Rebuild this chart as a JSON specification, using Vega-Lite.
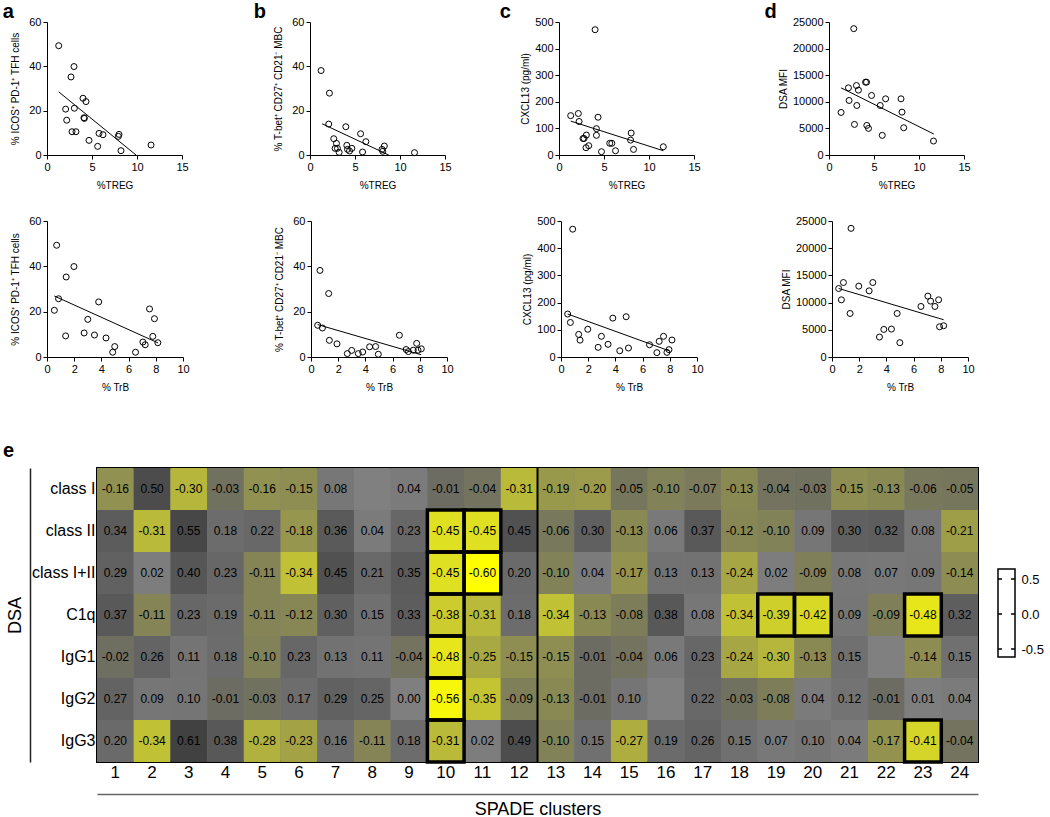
{
"$schema": "https://vega.github.io/schema/vega-lite/v6.json",
"background": "white",
"padding": {"left": 0, "top": 2, "right": 0, "bottom": 0},
"datasets": {
"aT": [{"x":1.30,"y":49.3},{"x":3.0,"y":39.9},{"x":2.67,"y":35.2},{"x":4.0,"y":25.6},{"x":4.33,"y":24.1},{"x":2.07,"y":20.7},{"x":3.04,"y":21.1},{"x":2.19,"y":15.7},{"x":4.11,"y":16.8},{"x":4.15,"y":16.5},{"x":2.78,"y":10.5},{"x":3.22,"y":10.5},{"x":5.78,"y":9.75},{"x":6.22,"y":9.15},{"x":8.0,"y":9.3},{"x":7.93,"y":8.4},{"x":4.67,"y":6.6},{"x":5.63,"y":3.9},{"x":8.22,"y":1.95},{"x":11.56,"y":4.5}],
"aTf": [{"x":1.3,"y":28.5},{"x":9.89,"y":0}],
"bT": [{"x":1.23,"y":38.1},{"x":2.16,"y":27.9},{"x":2.08,"y":13.95},{"x":3.98,"y":12.75},{"x":5.62,"y":9.6},{"x":2.64,"y":7.35},{"x":2.94,"y":5.25},{"x":6.21,"y":6.0},{"x":4.09,"y":4.35},{"x":8.26,"y":4.05},{"x":2.79,"y":3.0},{"x":3.05,"y":3.0},{"x":4.65,"y":3.0},{"x":4.17,"y":2.55},{"x":4.39,"y":1.8},{"x":8.0,"y":2.55},{"x":8.08,"y":1.65},{"x":3.24,"y":1.2},{"x":5.84,"y":1.35},{"x":11.61,"y":1.05}],
"bTf": [{"x":1.34,"y":14.1},{"x":8.75,"y":0}],
"cT": [{"x":4.01,"y":471},{"x":1.3,"y":148},{"x":2.15,"y":156},{"x":2.23,"y":126},{"x":4.34,"y":142},{"x":4.16,"y":99},{"x":4.16,"y":74},{"x":3.04,"y":75},{"x":2.78,"y":62},{"x":2.67,"y":62},{"x":3.3,"y":35},{"x":3.0,"y":27.5},{"x":5.64,"y":44},{"x":5.87,"y":44},{"x":4.72,"y":12.5},{"x":6.28,"y":16},{"x":8.02,"y":82.5},{"x":7.95,"y":56},{"x":8.28,"y":21},{"x":11.59,"y":31}],
"cTf": [{"x":1.3,"y":127.5},{"x":11.6,"y":16}],
"dT": [{"x":2.75,"y":23750},{"x":1.34,"y":8000},{"x":2.16,"y":12625},{"x":2.23,"y":10250},{"x":3.05,"y":13060},{"x":3.27,"y":12190},{"x":3.09,"y":9310},{"x":2.83,"y":5750},{"x":4.06,"y":13690},{"x":4.17,"y":13690},{"x":4.73,"y":11190},{"x":6.29,"y":10560},{"x":5.69,"y":9310},{"x":5.92,"y":3690},{"x":4.2,"y":5560},{"x":4.39,"y":5000},{"x":8.0,"y":10560},{"x":8.11,"y":8060},{"x":8.3,"y":5125},{"x":11.61,"y":2625}],
"dTf": [{"x":1.34,"y":12625},{"x":11.65,"y":3940}],
"aB": [{"x":0.71,"y":49.3},{"x":1.98,"y":39.9},{"x":1.41,"y":35.3},{"x":0.85,"y":25.7},{"x":0.54,"y":20.6},{"x":3.8,"y":24.3},{"x":3.0,"y":16.6},{"x":7.54,"y":21.2},{"x":7.9,"y":16.9},{"x":1.37,"y":9.3},{"x":2.73,"y":10.6},{"x":3.49,"y":9.7},{"x":4.34,"y":8.4},{"x":7.78,"y":9.1},{"x":4.98,"y":4.6},{"x":4.83,"y":2.1},{"x":6.51,"y":2.1},{"x":7.05,"y":6.6},{"x":7.22,"y":5.4},{"x":8.15,"y":6.3}],
"aBf": [{"x":0.54,"y":26.9},{"x":8.17,"y":6.2}],
"bB": [{"x":0.66,"y":38.2},{"x":1.3,"y":28.0},{"x":0.49,"y":14.0},{"x":0.84,"y":12.8},{"x":1.35,"y":7.35},{"x":1.91,"y":5.8},{"x":2.67,"y":1.5},{"x":2.99,"y":2.9},{"x":3.48,"y":1.5},{"x":3.8,"y":2.2},{"x":4.31,"y":4.5},{"x":4.75,"y":4.6},{"x":4.95,"y":1.2},{"x":6.5,"y":9.6},{"x":7.0,"y":3.3},{"x":7.16,"y":2.4},{"x":7.52,"y":3.0},{"x":7.77,"y":6.0},{"x":7.87,"y":3.0},{"x":8.11,"y":3.6}],
"bBf": [{"x":0.49,"y":14.3},{"x":8.1,"y":1.0}],
"cB": [{"x":0.86,"y":470},{"x":0.49,"y":158},{"x":0.69,"y":127},{"x":1.3,"y":83},{"x":1.4,"y":62},{"x":1.97,"y":102},{"x":2.97,"y":76},{"x":2.73,"y":35.5},{"x":3.46,"y":46.6},{"x":3.81,"y":143},{"x":4.32,"y":23},{"x":4.79,"y":148},{"x":4.96,"y":33},{"x":6.51,"y":45},{"x":7.54,"y":76},{"x":7.22,"y":57.6},{"x":7.05,"y":16},{"x":7.79,"y":17},{"x":7.94,"y":27},{"x":8.16,"y":62.5}],
"cBf": [{"x":0.49,"y":158},{"x":7.94,"y":23}],
"dB": [{"x":1.4,"y":23650},{"x":0.49,"y":12590},{"x":0.84,"y":13690},{"x":0.69,"y":10510},{"x":1.33,"y":8000},{"x":1.97,"y":13020},{"x":2.73,"y":12160},{"x":3.0,"y":13690},{"x":3.49,"y":3670},{"x":3.81,"y":5070},{"x":4.37,"y":5130},{"x":4.79,"y":8000},{"x":4.99,"y":2630},{"x":6.54,"y":9290},{"x":7.05,"y":11190},{"x":7.25,"y":10270},{"x":7.57,"y":9290},{"x":7.84,"y":10510},{"x":7.91,"y":5560},{"x":8.21,"y":5750}],
"dBf": [{"x":0.49,"y":12600},{"x":8.21,"y":6850}],
"heat": [
{"r":"class I","1":-0.16,"2":0.50,"3":-0.30,"4":-0.03,"5":-0.16,"6":-0.15,"7":0.08,"8":null,"9":0.04,"10":-0.01,"11":-0.04,"12":-0.31,"13":-0.19,"14":-0.20,"15":-0.05,"16":-0.10,"17":-0.07,"18":-0.13,"19":-0.04,"20":-0.03,"21":-0.15,"22":-0.13,"23":-0.06,"24":-0.05},
{"r":"class II","1":0.34,"2":-0.31,"3":0.55,"4":0.18,"5":0.22,"6":-0.18,"7":0.36,"8":0.04,"9":0.23,"10":-0.45,"11":-0.45,"12":0.45,"13":-0.06,"14":0.30,"15":-0.13,"16":0.06,"17":0.37,"18":-0.12,"19":-0.10,"20":0.09,"21":0.30,"22":0.32,"23":0.08,"24":-0.21},
{"r":"class I+II","1":0.29,"2":0.02,"3":0.40,"4":0.23,"5":-0.11,"6":-0.34,"7":0.45,"8":0.21,"9":0.35,"10":-0.45,"11":-0.60,"12":0.20,"13":-0.10,"14":0.04,"15":-0.17,"16":0.13,"17":0.13,"18":-0.24,"19":0.02,"20":-0.09,"21":0.08,"22":0.07,"23":0.09,"24":-0.14},
{"r":"C1q","1":0.37,"2":-0.11,"3":0.23,"4":0.19,"5":-0.11,"6":-0.12,"7":0.30,"8":0.15,"9":0.33,"10":-0.38,"11":-0.31,"12":0.18,"13":-0.34,"14":-0.13,"15":-0.08,"16":0.38,"17":0.08,"18":-0.34,"19":-0.39,"20":-0.42,"21":0.09,"22":-0.09,"23":-0.48,"24":0.32},
{"r":"IgG1","1":-0.02,"2":0.26,"3":0.11,"4":0.18,"5":-0.10,"6":0.23,"7":0.13,"8":0.11,"9":-0.04,"10":-0.48,"11":-0.25,"12":-0.15,"13":-0.15,"14":-0.01,"15":-0.04,"16":0.06,"17":0.23,"18":-0.24,"19":-0.30,"20":-0.13,"21":0.15,"22":null,"23":-0.14,"24":0.15},
{"r":"IgG2","1":0.27,"2":0.09,"3":0.10,"4":-0.01,"5":-0.03,"6":0.17,"7":0.29,"8":0.25,"9":0.00,"10":-0.56,"11":-0.35,"12":-0.09,"13":-0.13,"14":-0.01,"15":0.10,"16":null,"17":0.22,"18":-0.03,"19":-0.08,"20":0.04,"21":0.12,"22":-0.01,"23":0.01,"24":0.04},
{"r":"IgG3","1":0.20,"2":-0.34,"3":0.61,"4":0.38,"5":-0.28,"6":-0.23,"7":0.16,"8":-0.11,"9":0.18,"10":-0.31,"11":0.02,"12":0.49,"13":-0.10,"14":0.15,"15":-0.27,"16":0.19,"17":0.26,"18":0.15,"19":0.07,"20":0.10,"21":0.04,"22":-0.17,"23":-0.41,"24":-0.04}
],
"sig": [{"r":"class II","c":"10"},{"r":"class II","c":"11"},{"r":"class I+II","c":"10"},{"r":"class I+II","c":"11"},{"r":"C1q","c":"10"},{"r":"C1q","c":"19"},{"r":"C1q","c":"20"},{"r":"C1q","c":"23"},{"r":"IgG1","c":"10"},{"r":"IgG2","c":"10"},{"r":"IgG3","c":"10"},{"r":"IgG3","c":"23"}]
},
"vconcat": [
{"vconcat": [
 {"hconcat": [
  {"hconcat": [
   {"hconcat": [
    {"width":1,"height":1,"data":{"values":[{}]},"mark":{"type":"rule","opacity":0},"encoding":{}},
    {"width":135,"height":133,"title":{"text":"a","dx":-8,"offset":-6},
     "encoding":{"x":{"field":"x","type":"quantitative","scale":{"domain":[0,15],"nice":false},"axis":{"values":[0,5,10,15],"title":"%TREG","labelFlush":false}},
                 "y":{"field":"y","type":"quantitative","scale":{"domain":[0,60],"nice":false},"axis":{"values":[0,20,40,60],"title":"% ICOS⁺ PD-1⁺ TFH cells"}}},
     "layer":[
      {"data":{"name":"aT"},"mark":{"type":"point","shape":"circle","filled":false,"color":"black","strokeWidth":1,"size":36,"opacity":1}},
      {"data":{"name":"aTf"},"mark":{"type":"line","color":"black","strokeWidth":1,"clip":true}},
      {"data":{"values":[{}]},"mark":{"type":"text","text":"r = -0.77","align":"center","fontSize":11},"encoding":{"x":{"datum":11.74},"y":{"datum":57.4}}},
      {"data":{"values":[{}]},"mark":{"type":"text","text":"P","align":"right","dx":-19.4,"fontStyle":"italic","fontSize":11},"encoding":{"x":{"datum":11.74},"y":{"datum":52.9}}},
      {"data":{"values":[{}]},"mark":{"type":"text","text":"< 0.0001","align":"left","dx":-16.3,"fontSize":11},"encoding":{"x":{"datum":11.74},"y":{"datum":52.9}}}
     ]}
   ], "spacing": 0},
   {"width":135,"height":133,"title":{"text":"b","dx":-20,"offset":-6},
    "encoding":{"x":{"field":"x","type":"quantitative","scale":{"domain":[0,15],"nice":false},"axis":{"values":[0,5,10,15],"title":"%TREG","labelFlush":false}},
                "y":{"field":"y","type":"quantitative","scale":{"domain":[0,60],"nice":false},"axis":{"values":[0,20,40,60],"title":"% T-bet⁺ CD27⁺ CD21⁻ MBC"}}},
    "layer":[
     {"data":{"name":"bT"},"mark":{"type":"point","shape":"circle","filled":false,"color":"black","strokeWidth":1,"size":36,"opacity":1}},
     {"data":{"name":"bTf"},"mark":{"type":"line","color":"black","strokeWidth":1,"clip":true}},
     {"data":{"values":[{}]},"mark":{"type":"text","text":"r = -0.62","align":"center","fontSize":11},"encoding":{"x":{"datum":11.9},"y":{"datum":57.4}}},
     {"data":{"values":[{}]},"mark":{"type":"text","text":"P","align":"right","dx":-16.4,"fontStyle":"italic","fontSize":11},"encoding":{"x":{"datum":11.9},"y":{"datum":52.5}}},
     {"data":{"values":[{}]},"mark":{"type":"text","text":"= 0.003","align":"left","dx":-13.3,"fontSize":11},"encoding":{"x":{"datum":11.9},"y":{"datum":52.5}}}
    ]}
  ], "spacing": 64},
  {"hconcat": [
   {"width":135,"height":133,"title":{"text":"c","dx":-21,"offset":-6},
    "encoding":{"x":{"field":"x","type":"quantitative","scale":{"domain":[0,15],"nice":false},"axis":{"values":[0,5,10,15],"title":"%TREG","labelFlush":false}},
                "y":{"field":"y","type":"quantitative","scale":{"domain":[0,500],"nice":false},"axis":{"values":[0,100,200,300,400,500],"title":"CXCL13 (pg/ml)","titlePadding":4}}},
    "layer":[
     {"data":{"name":"cT"},"mark":{"type":"point","shape":"circle","filled":false,"color":"black","strokeWidth":1,"size":36,"opacity":1}},
     {"data":{"name":"cTf"},"mark":{"type":"line","color":"black","strokeWidth":1,"clip":true}},
     {"data":{"values":[{}]},"mark":{"type":"text","text":"r = -0.52","align":"center","fontSize":11},"encoding":{"x":{"datum":11.88},"y":{"datum":479}}},
     {"data":{"values":[{}]},"mark":{"type":"text","text":"P","align":"right","dx":-13.3,"fontStyle":"italic","fontSize":11},"encoding":{"x":{"datum":11.88},"y":{"datum":436}}},
     {"data":{"values":[{}]},"mark":{"type":"text","text":"= 0.02","align":"left","dx":-10.2,"fontSize":11},"encoding":{"x":{"datum":11.88},"y":{"datum":436}}}
    ]},
   {"width":135,"height":133,"title":{"text":"d","dx":-14,"offset":-6},
    "encoding":{"x":{"field":"x","type":"quantitative","scale":{"domain":[0,15],"nice":false},"axis":{"values":[0,5,10,15],"title":"%TREG","labelFlush":false}},
                "y":{"field":"y","type":"quantitative","scale":{"domain":[0,25000],"nice":false},"axis":{"values":[0,5000,10000,15000,20000,25000],"format":"d","title":"DSA MFI","titlePadding":4}}},
    "layer":[
     {"data":{"name":"dT"},"mark":{"type":"point","shape":"circle","filled":false,"color":"black","strokeWidth":1,"size":36,"opacity":1}},
     {"data":{"name":"dTf"},"mark":{"type":"line","color":"black","strokeWidth":1,"clip":true}},
     {"data":{"values":[{}]},"mark":{"type":"text","text":"r = -0.45","align":"center","fontSize":11},"encoding":{"x":{"datum":11.95},"y":{"datum":24190}}},
     {"data":{"values":[{}]},"mark":{"type":"text","text":"P","align":"right","dx":-13.3,"fontStyle":"italic","fontSize":11},"encoding":{"x":{"datum":11.95},"y":{"datum":22060}}},
     {"data":{"values":[{}]},"mark":{"type":"text","text":"= 0.04","align":"left","dx":-10.2,"fontSize":11},"encoding":{"x":{"datum":11.95},"y":{"datum":22060}}}
    ]}
  ], "spacing": 63}
 ], "spacing": 47},
 {"hconcat": [
  {"hconcat": [
   {"hconcat": [
    {"width":9,"height":1,"data":{"values":[{}]},"mark":{"type":"rule","opacity":0},"encoding":{}},
    {"width":136,"height":136,
     "encoding":{"x":{"field":"x","type":"quantitative","scale":{"domain":[0,10],"nice":false},"axis":{"values":[0,2,4,6,8,10],"title":"% TrB","labelFlush":false}},
                 "y":{"field":"y","type":"quantitative","scale":{"domain":[0,60],"nice":false},"axis":{"values":[0,20,40,60],"title":"% ICOS⁺ PD-1⁺ TFH cells"}}},
     "layer":[
      {"data":{"name":"aB"},"mark":{"type":"point","shape":"circle","filled":false,"color":"black","strokeWidth":1,"size":36,"opacity":1}},
      {"data":{"name":"aBf"},"mark":{"type":"line","color":"black","strokeWidth":1,"clip":true}},
      {"data":{"values":[{}]},"mark":{"type":"text","text":"r = -0.58","align":"center","fontSize":11},"encoding":{"x":{"datum":7.85},"y":{"datum":57.9}}},
      {"data":{"values":[{}]},"mark":{"type":"text","text":"P","align":"right","dx":-16.4,"fontStyle":"italic","fontSize":11},"encoding":{"x":{"datum":7.85},"y":{"datum":52.6}}},
      {"data":{"values":[{}]},"mark":{"type":"text","text":"= 0.008","align":"left","dx":-13.3,"fontSize":11},"encoding":{"x":{"datum":7.85},"y":{"datum":52.6}}}
     ]}
   ], "spacing": 0},
   {"width":136,"height":136,
    "encoding":{"x":{"field":"x","type":"quantitative","scale":{"domain":[0,10],"nice":false},"axis":{"values":[0,2,4,6,8,10],"title":"% TrB","labelFlush":false}},
                "y":{"field":"y","type":"quantitative","scale":{"domain":[0,60],"nice":false},"axis":{"values":[0,20,40,60],"title":"% T-bet⁺ CD27⁺ CD21⁻ MBC"}}},
    "layer":[
     {"data":{"name":"bB"},"mark":{"type":"point","shape":"circle","filled":false,"color":"black","strokeWidth":1,"size":36,"opacity":1}},
     {"data":{"name":"bBf"},"mark":{"type":"line","color":"black","strokeWidth":1,"clip":true}},
     {"data":{"values":[{}]},"mark":{"type":"text","text":"r = -0.45","align":"center","fontSize":11},"encoding":{"x":{"datum":7.89},"y":{"datum":57.1}}},
     {"data":{"values":[{}]},"mark":{"type":"text","text":"P","align":"right","dx":-13.3,"fontStyle":"italic","fontSize":11},"encoding":{"x":{"datum":7.89},"y":{"datum":52.3}}},
     {"data":{"values":[{}]},"mark":{"type":"text","text":"= 0.04","align":"left","dx":-10.2,"fontSize":11},"encoding":{"x":{"datum":7.89},"y":{"datum":52.3}}}
    ]}
  ], "spacing": 84},
  {"hconcat": [
   {"width":136,"height":136,
    "encoding":{"x":{"field":"x","type":"quantitative","scale":{"domain":[0,10],"nice":false},"axis":{"values":[0,2,4,6,8,10],"title":"% TrB","labelFlush":false}},
                "y":{"field":"y","type":"quantitative","scale":{"domain":[0,500],"nice":false},"axis":{"values":[0,100,200,300,400,500],"title":"CXCL13 (pg/ml)","titlePadding":4}}},
    "layer":[
     {"data":{"name":"cB"},"mark":{"type":"point","shape":"circle","filled":false,"color":"black","strokeWidth":1,"size":36,"opacity":1}},
     {"data":{"name":"cBf"},"mark":{"type":"line","color":"black","strokeWidth":1,"clip":true}},
     {"data":{"values":[{}]},"mark":{"type":"text","text":"r = -0.59","align":"center","fontSize":11},"encoding":{"x":{"datum":7.94},"y":{"datum":479}}},
     {"data":{"values":[{}]},"mark":{"type":"text","text":"P","align":"right","dx":-16.4,"fontStyle":"italic","fontSize":11},"encoding":{"x":{"datum":7.94},"y":{"datum":436}}},
     {"data":{"values":[{}]},"mark":{"type":"text","text":"= 0.006","align":"left","dx":-13.3,"fontSize":11},"encoding":{"x":{"datum":7.94},"y":{"datum":436}}}
    ]},
   {"width":136,"height":136,
    "encoding":{"x":{"field":"x","type":"quantitative","scale":{"domain":[0,10],"nice":false},"axis":{"values":[0,2,4,6,8,10],"title":"% TrB","labelFlush":false}},
                "y":{"field":"y","type":"quantitative","scale":{"domain":[0,25000],"nice":false},"axis":{"values":[0,5000,10000,15000,20000,25000],"format":"d","title":"DSA MFI","titlePadding":4}}},
    "layer":[
     {"data":{"name":"dB"},"mark":{"type":"point","shape":"circle","filled":false,"color":"black","strokeWidth":1,"size":36,"opacity":1}},
     {"data":{"name":"dBf"},"mark":{"type":"line","color":"black","strokeWidth":1,"clip":true}},
     {"data":{"values":[{}]},"mark":{"type":"text","text":"r = -0.45","align":"center","fontSize":11},"encoding":{"x":{"datum":7.94},"y":{"datum":24080}}},
     {"data":{"values":[{}]},"mark":{"type":"text","text":"P","align":"right","dx":-13.3,"fontStyle":"italic","fontSize":11},"encoding":{"x":{"datum":7.94},"y":{"datum":22000}}},
     {"data":{"values":[{}]},"mark":{"type":"text","text":"= 0.04","align":"left","dx":-10.2,"fontSize":11},"encoding":{"x":{"datum":7.94},"y":{"datum":22000}}}
    ]}
  ], "spacing": 77}
 ], "spacing": 68}
], "spacing": 25},
{"hconcat": [
 {"hconcat": [
  {"width":1,"height":1,"data":{"values":[{}]},"mark":{"type":"rule","opacity":0},"encoding":{}},
  {"width": 881, "height": 294,
   "title": {"text": "e", "dx": -3, "offset": 6},
   "view": {"stroke": "black", "strokeWidth": 2, "fill": "#808080"},
   "layer": [
    {"data": {"name": "heat"},
     "transform": [{"fold": ["1","2","3","4","5","6","7","8","9","10","11","12","13","14","15","16","17","18","19","20","21","22","23","24"], "as": ["c","v"]}],
     "mark": {"type": "rect", "invalid": "show"},
     "encoding": {
      "x": {"field": "c", "type": "ordinal", "sort": ["1","2","3","4","5","6","7","8","9","10","11","12","13","14","15","16","17","18","19","20","21","22","23","24"],
            "scale": {"paddingInner": 0, "paddingOuter": 0},
            "axis": {"orient": "bottom", "offset": 32, "domain": true, "domainColor": "#666666", "domainWidth": 1.5, "ticks": false, "labelPadding": -30, "labelFontSize": 17, "labelAngle": 0, "title": "SPADE clusters", "titleFontSize": 18, "titlePadding": 6}},
      "y": {"field": "r", "type": "nominal", "sort": ["class I","class II","class I+II","C1q","IgG1","IgG2","IgG3"],
            "scale": {"paddingInner": 0, "paddingOuter": 0},
            "axis": {"orient": "left", "offset": 67, "domain": true, "domainColor": "#222222", "domainWidth": 1.5, "ticks": false, "labelPadding": -65, "labelFontSize": 16, "title": "DSA", "titleFontSize": 18, "titlePadding": 6}},
      "color": {"condition": {"test": "datum.v === null", "value": "#808080"}, "field": "v", "type": "quantitative",
                "scale": {"domain": [-0.6, -0.45, -0.3, -0.15, -0.01, 0, 0.3, 0.61], "range": ["#ffff00", "#e0e022", "#b6b63c", "#8e8e52", "#6c6c62", "#7f7f7f", "#606060", "#414141"], "interpolate": "rgb"},
                "legend": null}
     }},
    {"data": {"name": "heat"},
     "transform": [{"fold": ["1","2","3","4","5","6","7","8","9","10","11","12","13","14","15","16","17","18","19","20","21","22","23","24"], "as": ["c","v"]}],
     "mark": {"type": "text", "fontSize": 12, "color": "black", "invalid": "show", "text": {"expr": "datum.v === null ? '' : replace(format(datum.v, '.2f'), '\u2212', '-')"}},
     "encoding": {"x": {"field": "c", "type": "ordinal", "sort": ["1","2","3","4","5","6","7","8","9","10","11","12","13","14","15","16","17","18","19","20","21","22","23","24"]},
                  "y": {"field": "r", "type": "nominal", "sort": ["class I","class II","class I+II","C1q","IgG1","IgG2","IgG3"]}}},
    {"data": {"name": "sig"},
     "mark": {"type": "rect", "fillOpacity": 0, "stroke": "black", "strokeWidth": 3.5},
     "encoding": {"x": {"field": "c", "type": "ordinal", "sort": ["1","2","3","4","5","6","7","8","9","10","11","12","13","14","15","16","17","18","19","20","21","22","23","24"]},
                  "y": {"field": "r", "type": "nominal", "sort": ["class I","class II","class I+II","C1q","IgG1","IgG2","IgG3"]}}},
    {"data": {"values": [{}]},
     "mark": {"type": "rule", "color": "black", "strokeWidth": 2},
     "encoding": {"x": {"datum": "13", "type": "ordinal", "bandPosition": 0}}}
   ]}
 ], "spacing": 0},
 {"vconcat": [
   {"width": 17, "height": 100, "data": {"values": [{}]}, "mark": {"type": "rule", "opacity": 0}, "encoding": {}},
   {"width": 17, "height": 88,
    "view": {"stroke": "black", "strokeWidth": 1.5},
    "data": {"values": [{"t": 0.5}, {"t": 0}, {"t": -0.5}]},
    "mark": {"type": "rule", "color": "black", "strokeWidth": 1.5, "strokeDash": [4, 9]},
    "encoding": {"y": {"field": "t", "type": "quantitative", "scale": {"domain": [-0.614, 0.643], "nice": false, "zero": false},
      "axis": {"orient": "right", "values": [-0.5, 0, 0.5], "ticks": false, "domain": false, "labelPadding": 6, "labelFontSize": 13, "title": null, "labelExpr": "replace(datum.label, '\u2212', '-')"}}}}
 ], "spacing": 0}
], "spacing": 16}
],
"spacing": 48,
"config": {
 "font": "Liberation Sans",
 "view": {"stroke": null},
 "axis": {"grid": false, "domainColor": "black", "tickColor": "black", "labelColor": "black", "titleColor": "black", "labelFontSize": 11, "titleFontSize": 10, "titleFontWeight": "normal", "tickSize": 4, "labelPadding": 2, "titlePadding": 8, "labelFont": "Liberation Sans", "titleFont": "Liberation Sans"},
 "title": {"font": "Liberation Sans", "fontSize": 20, "fontWeight": "bold", "anchor": "start", "frame": "bounds", "color": "black"},
 "text": {"font": "Liberation Sans", "color": "black"}
}
}
